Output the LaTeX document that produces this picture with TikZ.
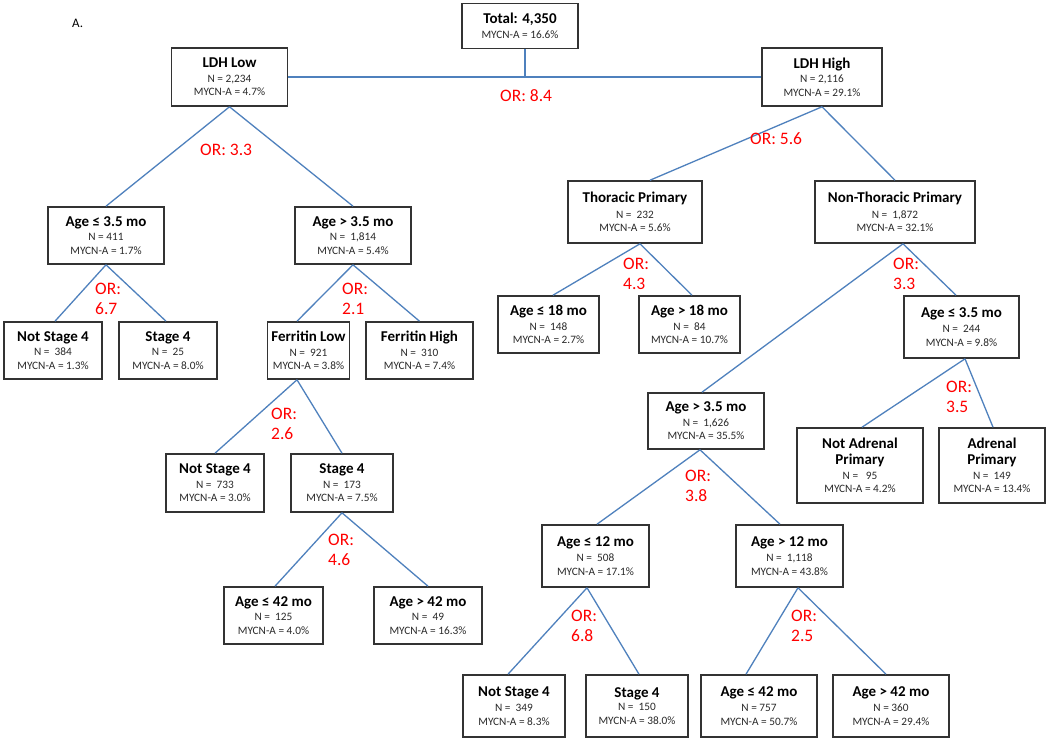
\documentclass[tikz,border=0pt]{standalone}
\usepackage{fontspec}
\setmainfont{Carlito}
\usetikzlibrary{calc}
\definecolor{lineblue}{HTML}{4F81BD}
\definecolor{boxgray}{HTML}{333333}
\definecolor{orred}{HTML}{FF0000}
\definecolor{txtgray}{HTML}{2A2A2A}
\newcommand{\ttl}[1]{{\fontsize{15}{17}\selectfont\bfseries\color{black}#1}}
\begin{document}
\begin{tikzpicture}[x=1pt,y=-1pt,
  box/.style={draw=boxgray, line width=1.6pt, fill=white, align=center, inner sep=0pt,
    font=\fontsize{11.3}{13.5}\selectfont, text=txtgray},
  conn/.style={draw=lineblue, line width=1.3pt},
  orlab/.style={text=orred, font=\fontsize{17.5}{20}\selectfont, inner sep=0pt, align=left}]
\useasboundingbox[fill=white] (0,0) rectangle (1050,742);

\node[anchor=base west, inner sep=0pt, font=\fontsize{13}{15}\selectfont] (lbl) at (72,27) {A.};

% ---- nodes ----
\node[box, minimum width=116pt, minimum height=45pt] (total) at (520,26) {\ttl{Total: 4,350}\\[1pt] MYCN-A = 16.6\%};
\node[box, minimum width=116pt, minimum height=58pt] (ldhlow) at (229.5,77) {\ttl{LDH Low}\\[1pt] N = 2,234\\ MYCN-A = 4.7\%};
\node[box, minimum width=120pt, minimum height=58pt] (ldhhigh) at (822,77) {\ttl{LDH High}\\[1pt] N = 2,116\\ MYCN-A = 29.1\%};

\node[box, minimum width=116pt, minimum height=57pt] (age35L) at (106,235.5) {\ttl{Age ≤ 3.5 mo}\\[1pt] N = 411\\ MYCN-A = 1.7\%};
\node[box, minimum width=116pt, minimum height=57pt] (age35gL) at (353,235.5) {\ttl{Age > 3.5 mo}\\[1pt] N =\ \ 1,814\\ MYCN-A = 5.4\%};
\node[box, minimum width=98pt, minimum height=57pt] (ns4a) at (53,350.5) {\ttl{Not Stage 4}\\[1pt] N =\ \ 384\\ MYCN-A = 1.3\%};
\node[box, minimum width=98pt, minimum height=57pt] (s4a) at (168,350.5) {\ttl{Stage 4}\\[1pt] N =\ \ 25\\ MYCN-A = 8.0\%};
\node[box, minimum width=82pt, minimum height=57pt] (ferrlow) at (308.5,350.5) {\ttl{Ferritin Low}\\[1pt] N =\ \ 921\\ MYCN-A = 3.8\%};
\node[box, minimum width=107pt, minimum height=57pt] (ferrhigh) at (419.5,350.5) {\ttl{Ferritin High}\\[1pt] N =\ \ 310\\ MYCN-A = 7.4\%};
\node[box, minimum width=98pt, minimum height=58pt] (ns4b) at (215,483) {\ttl{Not Stage 4}\\[1pt] N =\ \ 733\\ MYCN-A = 3.0\%};
\node[box, minimum width=102pt, minimum height=58pt] (s4b) at (342,483) {\ttl{Stage 4}\\[1pt] N =\ \ 173\\ MYCN-A = 7.5\%};
\node[box, minimum width=99pt, minimum height=57pt] (age42L) at (273.5,615.5) {\ttl{Age ≤ 42 mo}\\[1pt] N =\ \ 125\\ MYCN-A = 4.0\%};
\node[box, minimum width=108pt, minimum height=57pt] (age42gL) at (428,615.5) {\ttl{Age > 42 mo}\\[1pt] N =\ \ 49\\ MYCN-A = 16.3\%};

\node[box, minimum width=134pt, minimum height=62pt] (thor) at (635,212) {\ttl{Thoracic Primary}\\[2pt] N =\ \ 232\\ MYCN-A = 5.6\%};
\node[box, minimum width=160pt, minimum height=62pt] (nonthor) at (895,212) {\ttl{Non-Thoracic Primary}\\[2pt] N =\ \ 1,872\\ MYCN-A = 32.1\%};
\node[box, minimum width=101pt, minimum height=57pt] (age18) at (548.5,324.5) {\ttl{Age ≤ 18 mo}\\[1pt] N =\ \ 148\\ MYCN-A = 2.7\%};
\node[box, minimum width=101pt, minimum height=57pt] (age18g) at (689.5,324.5) {\ttl{Age > 18 mo}\\[1pt] N =\ \ 84\\ MYCN-A = 10.7\%};
\node[box, minimum width=115pt, minimum height=62pt] (age35R) at (961.5,327) {\ttl{Age ≤ 3.5 mo}\\[2pt] N =\ \ 244\\ MYCN-A = 9.8\%};
\node[box, minimum width=116pt, minimum height=56pt] (age35gR) at (706,421) {\ttl{Age > 3.5 mo}\\[1pt] N =\ \ 1,626\\ MYCN-A = 35.5\%};
\node[box, minimum width=126pt, minimum height=75pt] (notadr) at (860,465.5) {\ttl{Not Adrenal}\\[3pt] \ttl{Primary}\\[1pt] N =\ \ \ 95\\ MYCN-A = 4.2\%};
\node[box, minimum width=106pt, minimum height=75pt] (adr) at (992,465.5) {\ttl{Adrenal}\\[3pt] \ttl{Primary}\\[1pt] N =\ \ 149\\ MYCN-A = 13.4\%};
\node[box, minimum width=107pt, minimum height=62pt] (age12) at (595.5,556) {\ttl{Age ≤ 12 mo}\\[2pt] N =\ \ 508\\ MYCN-A = 17.1\%};
\node[box, minimum width=107pt, minimum height=62pt] (age12g) at (789.5,556) {\ttl{Age > 12 mo}\\[2pt] N =\ \ 1,118\\ MYCN-A = 43.8\%};
\node[box, minimum width=102pt, minimum height=62pt] (ns4c) at (514,706) {\ttl{Not Stage 4}\\[2pt] N =\ \ 349\\ MYCN-A = 8.3\%};
\node[box, minimum width=102pt, minimum height=62pt] (s4c) at (637,706) {\ttl{Stage 4}\\[0pt] N =\ \ 150\\ MYCN-A = 38.0\%};
\node[box, minimum width=116pt, minimum height=62pt] (age42R) at (759,706) {\ttl{Age ≤ 42 mo}\\[2pt] N = 757\\ MYCN-A = 50.7\%};
\node[box, minimum width=116pt, minimum height=62pt] (age42gR) at (891,706) {\ttl{Age > 42 mo}\\[2pt] N = 360\\ MYCN-A = 29.4\%};

% ---- connectors ----
\draw[conn] (ldhlow.east) -- (ldhhigh.west);
\coordinate (tj) at ([xshift=5pt]total.south |- ldhlow.east);
\draw[conn] ([xshift=5pt]total.south) -- (tj);

\draw[conn] (ldhlow.south) -- (age35L.north);
\draw[conn] (ldhlow.south) -- (age35gL.north);
\draw[conn] (age35L.south) -- ([xshift=2pt]ns4a.north);
\draw[conn] (age35L.south) -- ([xshift=-2pt]s4a.north);
\draw[conn] (age35gL.south) -- ([xshift=-11.5pt]ferrlow.north);
\draw[conn] (age35gL.south) -- (ferrhigh.north);
\draw[conn] ([xshift=-11.5pt]ferrlow.south) -- (ns4b.north);
\draw[conn] ([xshift=-11.5pt]ferrlow.south) -- (s4b.north);
\draw[conn] (s4b.south) -- ([xshift=1.5pt]age42L.north);
\draw[conn] (s4b.south) -- (age42gL.north);

\draw[conn] (ldhhigh.south) -- ([xshift=15pt]thor.north);
\draw[conn] (ldhhigh.south) -- (nonthor.north);
\draw[conn] ([xshift=5pt]thor.south) -- ([xshift=4.5pt]age18.north);
\draw[conn] ([xshift=5pt]thor.south) -- ([xshift=2.5pt]age18g.north);
\draw[conn] ([xshift=8pt]nonthor.south) -- ([xshift=-5.5pt]age35R.north);
\draw[conn] ([xshift=8pt]nonthor.south) -- ([xshift=-4pt]age35gR.north);
\draw[conn] ([xshift=3.5pt]age35R.south) -- ([xshift=2pt]notadr.north);
\draw[conn] ([xshift=3.5pt]age35R.south) -- ([xshift=1pt]adr.north);
\draw[conn] ([xshift=-6pt]age35gR.south) -- ([xshift=1.5pt]age12.north);
\draw[conn] ([xshift=-6pt]age35gR.south) -- ([xshift=-9.5pt]age12g.north);
\draw[conn] ([xshift=-8.5pt]age12.south) -- ([xshift=-6pt]ns4c.north);
\draw[conn] ([xshift=-8.5pt]age12.south) -- ([xshift=2pt]s4c.north);
\draw[conn] ([xshift=8.5pt]age12g.south) -- ([xshift=-13pt]age42R.north);
\draw[conn] ([xshift=8.5pt]age12g.south) -- ([xshift=-5pt]age42gR.north);

% ---- OR labels ----
\node[orlab, anchor=west] (or1) at (500,96) {OR: 8.4};
\node[orlab, anchor=west] (or2) at (200,150) {OR: 3.3};
\node[orlab, anchor=west] (or3) at (750,139) {OR: 5.6};
\node[orlab, anchor=north west] (or4) at (95,282.5) {OR:\\6.7};
\node[orlab, anchor=north west] (or5) at (342,282.5) {OR:\\2.1};
\node[orlab, anchor=north west] (or6) at (623,257.5) {OR:\\4.3};
\node[orlab, anchor=north west] (or7) at (893,257.5) {OR:\\3.3};
\node[orlab, anchor=north west] (or8) at (271,407.5) {OR:\\2.6};
\node[orlab, anchor=north west] (or9) at (946,380.5) {OR:\\3.5};
\node[orlab, anchor=north west] (or10) at (685,469.5) {OR:\\3.8};
\node[orlab, anchor=north west] (or11) at (328,533.5) {OR:\\4.6};
\node[orlab, anchor=north west] (or12) at (571,609.5) {OR:\\6.8};
\node[orlab, anchor=north west] (or13) at (791,609.5) {OR:\\2.5};
\end{tikzpicture}
\end{document}
